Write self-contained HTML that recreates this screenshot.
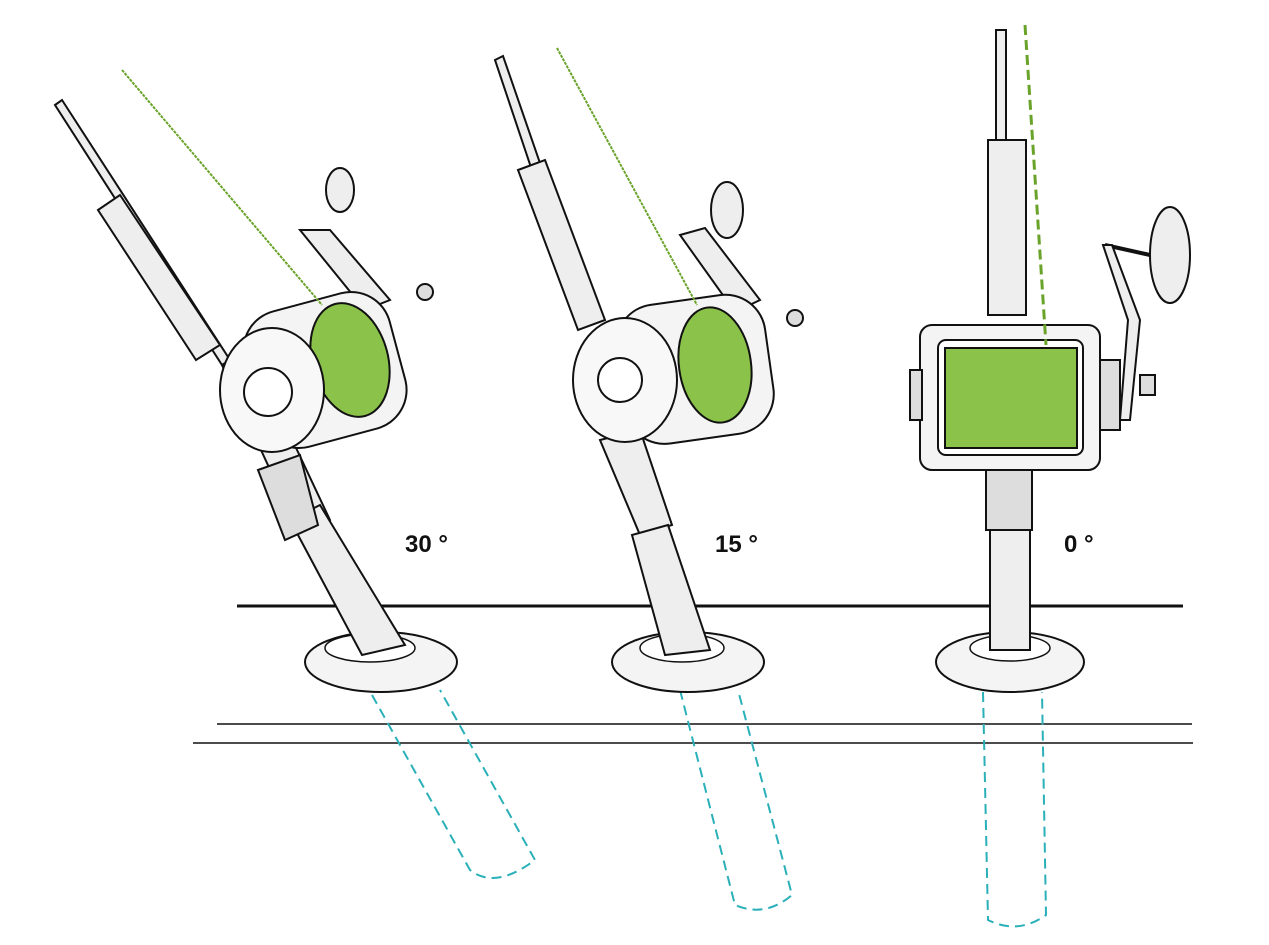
<!DOCTYPE html>
<html><head><meta charset="utf-8"><style>
html,body{margin:0;padding:0;background:#fff;}
svg{display:block}
text{font-family:"Liberation Sans",sans-serif;font-weight:bold;font-size:24px;fill:#111}
</style></head><body>
<svg width="1269" height="945" viewBox="0 0 1269 945" xmlns="http://www.w3.org/2000/svg">
<g stroke="#111" fill="none">
<line x1="237" y1="606" x2="1183" y2="606" stroke-width="3"/>
<line x1="217" y1="724" x2="1192" y2="724" stroke-width="1.5"/>
<line x1="193" y1="743" x2="1193" y2="743" stroke-width="1.5"/>
</g>
<!-- teal tubes -->
<g stroke="#2ab0b8" stroke-width="2" stroke-dasharray="10,6" fill="none">
<path d="M372 695 L470 870 Q495 890 535 860 L440 690"/>
<path d="M680 690 L735 905 Q765 918 792 895 L738 690"/>
<path d="M983 692 L988 920 Q1018 935 1046 915 L1042 692"/>
</g>
<!-- flanges -->
<g stroke="#111" stroke-width="2" fill="#f4f4f4">
<ellipse cx="381" cy="662" rx="76" ry="30"/>
<ellipse cx="688" cy="662" rx="76" ry="30"/>
<ellipse cx="1010" cy="662" rx="74" ry="30"/>
</g>
<g stroke="#111" stroke-width="1.5" fill="#fff">
<ellipse cx="370" cy="648" rx="45" ry="14"/>
<ellipse cx="682" cy="648" rx="42" ry="14"/>
<ellipse cx="1010" cy="648" rx="40" ry="13"/>
</g>
<!-- rods 30 -->
<g stroke="#111" stroke-width="2" fill="#eee">
<polygon points="55,105 62,100 230,360 222,365"/>
<polygon points="98,210 120,195 220,345 196,360"/>
<polygon points="222,365 250,350 330,520 300,535"/>
<polygon points="290,520 320,505 405,645 362,655"/>
<polygon points="258,470 300,455 318,525 285,540" fill="#ddd"/>
</g>
<!-- rods 15 -->
<g stroke="#111" stroke-width="2" fill="#eee">
<polygon points="495,60 503,56 570,250 560,254"/>
<polygon points="518,170 545,160 605,320 578,330"/>
<polygon points="600,440 640,430 672,525 640,535"/>
<polygon points="632,535 668,525 710,650 665,655"/>
</g>
<!-- rods 0 -->
<g stroke="#111" stroke-width="2" fill="#eee">
<rect x="996" y="30" width="10" height="120"/>
<rect x="988" y="140" width="38" height="175"/>
<rect x="986" y="470" width="46" height="60" fill="#ddd"/>
<rect x="990" y="530" width="40" height="120"/>
</g>
<!-- reel 30 -->
<g stroke="#111" stroke-width="2">
<polygon points="300,230 330,230 390,300 365,310" fill="#eee"/>
<ellipse cx="340" cy="190" rx="14" ry="22" fill="#eee"/>
<rect x="250" y="300" width="150" height="140" rx="40" transform="rotate(-15 325 370)" fill="#f4f4f4"/>
<ellipse cx="350" cy="360" rx="38" ry="58" fill="#8bc34a" transform="rotate(-15 350 360)"/>
<ellipse cx="272" cy="390" rx="52" ry="62" fill="#f8f8f8"/>
<circle cx="268" cy="392" r="24" fill="#fff"/>
<circle cx="425" cy="292" r="8" fill="#ddd"/>
</g>
<!-- reel 15 -->
<g stroke="#111" stroke-width="2">
<polygon points="680,235 705,228 760,300 735,312" fill="#eee"/>
<ellipse cx="727" cy="210" rx="16" ry="28" fill="#eee"/>
<rect x="620" y="300" width="150" height="140" rx="40" transform="rotate(-8 690 370)" fill="#f4f4f4"/>
<ellipse cx="715" cy="365" rx="36" ry="58" fill="#8bc34a" transform="rotate(-8 715 365)"/>
<ellipse cx="625" cy="380" rx="52" ry="62" fill="#f8f8f8"/>
<circle cx="620" cy="380" r="22" fill="#fff"/>
<circle cx="795" cy="318" r="8" fill="#ddd"/>
</g>
<!-- reel 0 -->
<g stroke="#111" stroke-width="2">
<polyline points="1105,245 1150,255" fill="none" stroke-width="4"/>
<polygon points="1103,245 1112,245 1140,320 1130,420 1120,420 1128,320" fill="#eee"/>
<ellipse cx="1170" cy="255" rx="20" ry="48" fill="#eee"/>
<rect x="920" y="325" width="180" height="145" rx="12" fill="#f4f4f4"/>
<rect x="938" y="340" width="145" height="115" rx="8" fill="#fff"/>
<rect x="945" y="348" width="132" height="100" fill="#8bc34a"/>
<rect x="910" y="370" width="12" height="50" fill="#ddd"/>
<rect x="1100" y="360" width="20" height="70" fill="#ddd"/>
<rect x="1140" y="375" width="15" height="20" fill="#ddd"/>
</g>
<!-- green lines -->
<g stroke="#6aa32a" stroke-width="2" fill="none">
<line x1="122" y1="70" x2="322" y2="305" stroke-dasharray="3,1"/>
<line x1="557" y1="48" x2="697" y2="305" stroke-dasharray="3,1"/>
<line x1="1025" y1="25" x2="1046" y2="345" stroke-width="3" stroke-dasharray="10,5"/>
</g>
<text x="405" y="552">30 °</text>
<text x="715" y="552">15 °</text>
<text x="1064" y="552">0 °</text>
</svg>
</body></html>
